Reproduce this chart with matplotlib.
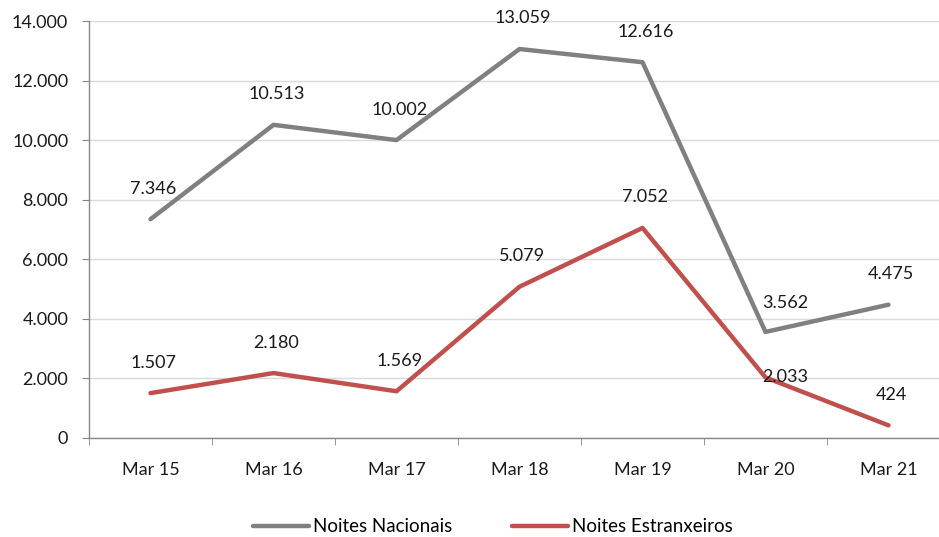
import matplotlib
matplotlib.use("Agg")
import matplotlib.pyplot as plt
from matplotlib.ticker import FuncFormatter, FixedLocator

plt.rcParams.update({"font.family": ["Lato", "DejaVu Sans"], "font.size": 13})

months = ["Mar 15", "Mar 16", "Mar 17", "Mar 18", "Mar 19", "Mar 20", "Mar 21"]
nacionais = [7346, 10513, 10002, 13059, 12616, 3562, 4475]
estrangeiros = [1507, 2180, 1569, 5079, 7052, 2033, 424]

C_NAC = "#808080"
C_EST = "#c0504d"
TXT = "#1a1a1a"

W, H = 939, 537
fig = plt.figure(figsize=(W / 100, H / 100), dpi=100)
ax = fig.add_axes([89 / W, 1 - 438 / H, 861 / W, 417 / H])

x = range(len(months))
ax.plot(x, nacionais, color=C_NAC, lw=3.2, solid_capstyle="round", label="Noites Nacionais")
ax.plot(x, estrangeiros, color=C_EST, lw=3.2, solid_capstyle="round", label="Noites Estranxeiros")


def fmt(v):
    return f"{v:,}".replace(",", ".")


for i, v in enumerate(nacionais):
    off = (14, 21) if i == 5 else (2, 22)
    ax.annotate(fmt(v), (i, v), textcoords="offset points", xytext=off,
                ha="center", va="center", fontsize=13, color=TXT)
for i, v in enumerate(estrangeiros):
    off = (14, 0) if i == 5 else (2, 22)
    ax.annotate(fmt(v), (i, v), textcoords="offset points", xytext=off,
                ha="center", va="center", fontsize=13, color=TXT)

ax.set_xlim(-0.5, 6.5)
ax.set_ylim(0, 14000)
ax.set_yticks(range(0, 14001, 2000))
ax.yaxis.set_major_formatter(FuncFormatter(lambda v, p: fmt(int(v))))
ax.grid(axis="y", color="#d9d9d9", lw=1)
ax.set_axisbelow(True)

ax.set_xticks(list(x))
ax.set_xticklabels(months)
ax.xaxis.set_minor_locator(FixedLocator([i + 0.5 for i in range(-1, 7)]))
ax.tick_params(axis="x", which="major", length=0, pad=17, labelsize=13, labelcolor=TXT)
ax.tick_params(axis="x", which="minor", length=5, color="#868686", direction="out")
ax.tick_params(axis="y", length=5, color="#868686", pad=10, labelsize=13, labelcolor=TXT)

for s in ["top", "right"]:
    ax.spines[s].set_visible(False)
for s in ["left", "bottom"]:
    ax.spines[s].set_color("#868686")
    ax.spines[s].set_linewidth(1)

fig.legend(loc="center", bbox_to_anchor=(0.525, 1 - 527 / H), ncol=2, frameon=False,
           fontsize=13.5, handlelength=3.0, columnspacing=3.2, handletextpad=0.2)

fig.savefig("out.png", dpi=100)
